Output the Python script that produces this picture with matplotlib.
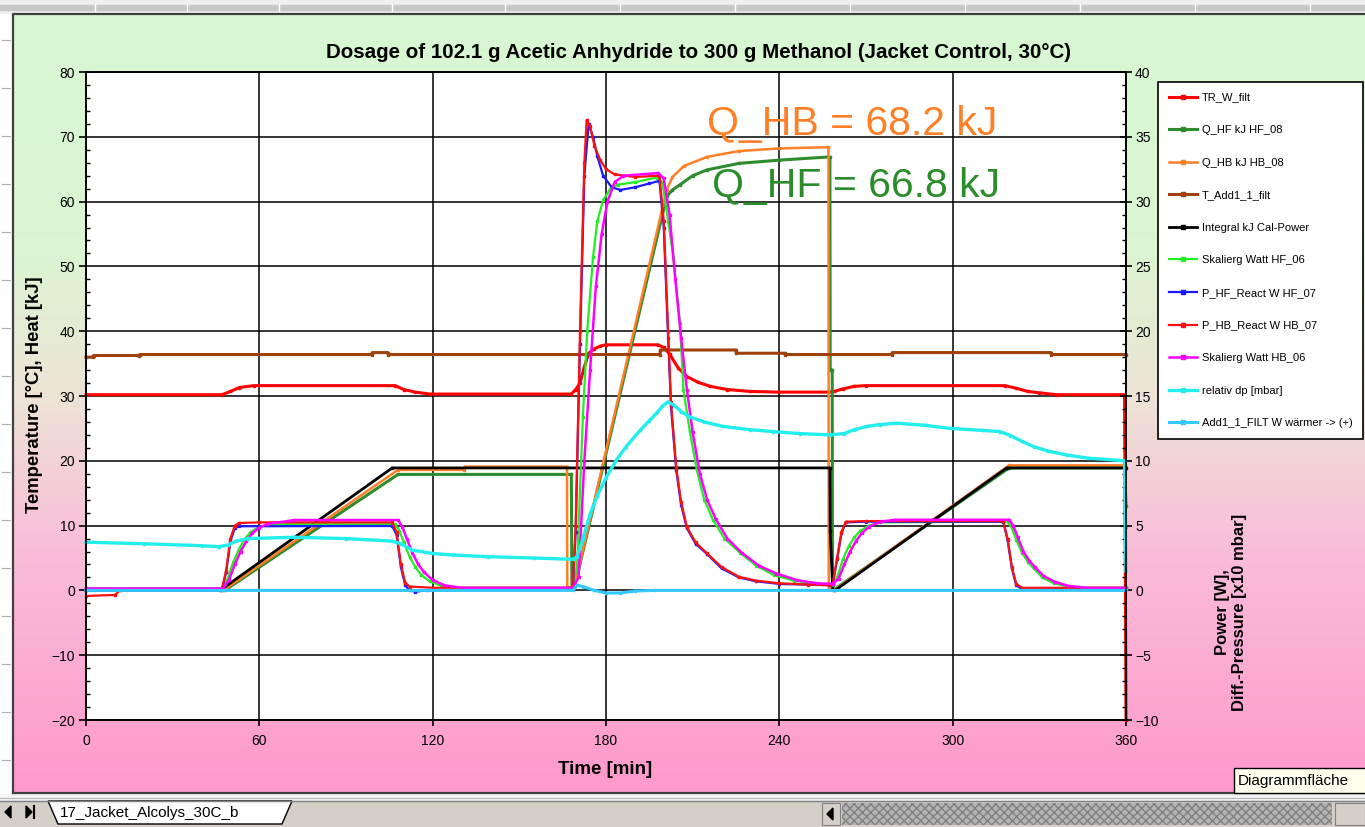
import numpy as np
import matplotlib
matplotlib.use("Agg")
import matplotlib.pyplot as plt
from matplotlib.patches import Rectangle, Polygon

plt.rcParams['font.family'] = ['Liberation Sans', 'DejaVu Sans']

# ---- data (time in min) ----
# left axis: temperature [degC] / heat [kJ]
tr_t = [0, 47, 50, 53, 58, 107, 110, 114, 119, 168, 169.5, 171, 172.5, 174, 176, 178, 180, 198, 200, 202,
        205, 208, 212, 216, 222, 230, 240, 257, 259, 262, 266, 270, 318, 322, 326, 330, 336, 359.5, 360]
tr_v = [30.2, 30.2, 30.7, 31.3, 31.6, 31.6, 31.0, 30.6, 30.3, 30.3, 31.0, 32.0, 34.5, 36.6, 37.3, 37.7,
        37.9, 37.9, 37.5, 36.5, 34.3, 33.0, 32.1, 31.5, 31.0, 30.7, 30.6, 30.6, 30.7, 31.1, 31.5, 31.6,
        31.6, 31.2, 30.7, 30.5, 30.2, 30.2, -20]

qhf_t = [0, 48, 108, 168, 168.2, 169, 201, 203, 205.6, 210, 215, 226, 240, 257.5, 257.6, 258.3, 258.4,
         259.5, 319.5, 359.5, 360]
qhf_v = [0, 0, 17.9, 17.9, 0.5, 0.3, 60.8, 61.8, 62.6, 64.0, 64.9, 65.9, 66.4, 66.9, 34.0, 34.0, 0.3,
         0.3, 18.9, 18.9, 13.0]

qhb_t = [0, 47.5, 108, 131, 131.1, 166.5, 166.6, 169, 201, 203, 207, 215, 226, 240, 257, 257.1, 259.5,
         319.5, 359.5, 360]
qhb_v = [0, 0, 18.6, 18.6, 19.1, 19.1, 0.5, 0.5, 61.8, 63.8, 65.5, 66.9, 67.8, 68.2, 68.4, 0.2, 0.2,
         19.3, 19.3, 9.8]

tadd_t = [0, 2.5, 2.6, 18.5, 18.6, 99, 99.1, 104.5, 104.6, 198.7, 198.8, 225, 225.1, 242, 242.1, 279,
          279.1, 334, 334.1, 360]
tadd_v = [36.0, 36.0, 36.25, 36.25, 36.4, 36.4, 36.7, 36.7, 36.4, 36.4, 37.1, 37.1, 36.6, 36.6, 36.4,
          36.4, 36.7, 36.7, 36.4, 36.4]

int_t = [0, 46.4, 106, 257.5, 257.6, 258.5, 259.3, 318.7, 360]
int_v = [0, 0, 18.9, 18.9, 9.2, 0, 0, 18.9, 18.9]

# right axis: power [W] / diff.-pressure [x10 mbar]
swhf_t = [0, 47, 49, 51, 53, 55, 57, 60, 63, 70, 107, 108.5, 110, 112, 114, 116, 119, 123, 128, 168.5,
          170, 172, 173.5, 175.5, 177, 179, 181.5, 184, 190, 197.5, 199.5, 201.5, 203.3, 205.6, 206.8,
          209, 211.4, 214, 217, 221, 226.4, 232, 238, 245, 252.8, 258.5, 260, 262, 264, 266, 268, 271,
          275, 319, 320.5, 322, 324, 326, 328, 331, 335, 340, 345, 360]
swhf_v = [0.15, 0.15, 0.9, 2.2, 3.2, 4.0, 4.5, 4.9, 5.05, 5.1, 5.1, 4.6, 3.7, 2.6, 1.8, 1.2, 0.7, 0.35,
          0.2, 0.2, 2.0, 13.4, 20.0, 25.7, 28.5, 30.1, 31.0, 31.3, 31.5, 31.85, 31.5, 28.5, 25.7, 20.6,
          15.5, 12.3, 9.3, 7.0, 5.45, 4.0, 2.9, 1.9, 1.2, 0.75, 0.5, 0.45, 1.0, 2.4, 3.4, 4.1, 4.6, 5.0,
          5.25, 5.3, 4.8, 3.9, 2.9, 2.2, 1.7, 1.0, 0.55, 0.3, 0.2, 0.2]

phf_t = [0, 47, 48.5, 50, 51.5, 53, 106, 107.5, 109, 110.5, 112, 114, 118, 168.5, 169.5, 171, 172.5,
         174, 175.5, 177, 179, 182, 185, 190, 195, 198.5, 200, 201.5, 202.5, 204.3, 206, 208, 211, 215,
         220, 226, 232, 240, 257.5, 258.5, 260, 261.5, 263, 270, 317.5, 319, 320.5, 322, 324, 360]
phf_v = [0, 0, 1.4, 3.8, 4.8, 4.95, 4.97, 4.3, 1.8, 0.4, 0.0, -0.1, 0.0, 0.1, 4.5, 19.0, 32.0, 36.0,
         35.0, 33.5, 32.0, 31.1, 30.9, 31.1, 31.4, 31.6, 28.0, 19.5, 14.2, 9.3, 6.6, 4.8, 3.6, 2.8, 1.7,
         1.0, 0.7, 0.5, 0.4, 0.5, 2.4, 4.4, 5.25, 5.3, 5.3, 3.9, 1.7, 0.4, 0.1, 0.1]

phb_t = [0, 10, 12, 47, 48.5, 50, 51.5, 53, 60, 106, 107.5, 109, 110.5, 112, 120, 168.5, 169.5, 171,
         172.5, 173.3, 174.5, 176, 178, 180, 183, 190, 198.5, 200, 201.5, 202.5, 204.3, 206, 208, 211,
         215, 220, 226, 232, 240, 250, 257.5, 258.5, 260, 261.5, 263, 270, 317.5, 319, 320.5, 322, 324, 360]
phb_v = [-0.43, -0.35, 0.05, 0.1, 1.5, 4.0, 5.0, 5.2, 5.25, 5.25, 4.5, 2.0, 0.6, 0.3, 0.2, 0.2, 5.0,
         20.0, 33.0, 36.3, 35.8, 34.3, 33.2, 32.5, 32.1, 31.9, 32.0, 28.5, 20.0, 14.5, 9.5, 6.8, 4.9,
         3.7, 2.85, 1.8, 1.05, 0.75, 0.55, 0.45, 0.4, 0.5, 2.5, 4.5, 5.3, 5.35, 5.35, 4.0, 1.8, 0.5,
         0.2, 0.2]

swhb_t = [0, 47.5, 49.5, 51.5, 53.5, 55.5, 57.5, 60, 63, 70, 72, 108, 109.5, 111, 113, 115, 117, 120,
          124, 130, 168.5, 170.5, 172.5, 174.5, 176.5, 178.5, 180.5, 183, 186, 198, 200, 202, 204, 206,
          208, 210, 212.5, 215, 218, 222, 227, 233, 239, 246, 253, 258.5, 260.5, 262.5, 264.5, 266.5,
          268.5, 271, 275, 280, 319.5, 321, 322.5, 324.5, 326.5, 328.5, 331.5, 335.5, 340, 346, 360]
swhb_v = [0.15, 0.15, 0.8, 2.0, 3.0, 3.8, 4.4, 4.85, 5.15, 5.35, 5.43, 5.43, 4.9, 4.0, 2.9, 2.0, 1.4,
          0.8, 0.4, 0.2, 0.2, 1.0, 10.0, 17.0, 23.5, 27.5, 30.0, 31.5, 32.0, 32.2, 31.8, 29.0, 24.0,
          19.5, 15.5, 12.2, 9.0, 7.0, 5.5, 4.0, 2.9, 1.9, 1.3, 0.8, 0.55, 0.5, 0.9, 2.0, 3.0, 3.8, 4.4,
          4.9, 5.3, 5.45, 5.45, 5.0, 4.1, 3.0, 2.3, 1.8, 1.1, 0.65, 0.35, 0.2, 0.2]

dp_t = [0, 20, 40, 46, 49, 52, 56, 72, 90, 106, 109, 113, 120, 127, 139, 155, 168.5, 170, 172, 174.5,
        177, 180, 183.6, 187, 191.8, 195, 197.4, 199.5, 201.4, 203.5, 206, 208.9, 214, 220.5, 230, 237.9,
        247, 257.5, 262.3, 266, 270.2, 275, 280.6, 290, 299, 310, 316.4, 320, 324, 328, 333, 339.5, 347,
        356.8, 359.5, 360]
dp_v = [3.72, 3.6, 3.45, 3.37, 3.5, 3.8, 4.0, 4.1, 4.0, 3.8, 3.6, 3.1, 2.85, 2.73, 2.6, 2.5, 2.4, 2.6,
        4.0, 5.9, 7.3, 8.7, 10.05, 11.1, 12.35, 13.1, 13.65, 14.2, 14.55, 14.3, 13.8, 13.4, 13.0, 12.65,
        12.4, 12.25, 12.1, 12.0, 12.1, 12.4, 12.65, 12.8, 12.9, 12.75, 12.5, 12.35, 12.25, 11.95, 11.5,
        11.1, 10.75, 10.45, 10.2, 10.05, 10.0, 1.5]

add_t = [0, 168.5, 170, 172, 176, 180, 185, 190, 197, 360]
add_v = [0, 0, 0.4, 0.3, 0.0, -0.2, -0.2, -0.05, 0.0, 0.0]

q_hb_total = 68.2
q_hf_total = 66.8

x_ticks = [0, 60, 120, 180, 240, 300, 360]

W, H = 1365, 827
fig = plt.figure(figsize=(W / 100, H / 100), dpi=100)
fig.patch.set_facecolor('white')

# ---- Excel-like surroundings ----
bg = fig.add_axes([0, 0, 1, 1], zorder=-5)
bg.set_xlim(0, W)
bg.set_ylim(H, 0)
bg.axis('off')

ys = np.arange(14, 794)
sy = [14, 250, 400, 550, 793]
cols = np.array([[0.84, 0.97, 0.82], [0.86, 0.96, 0.82], [0.93, 0.89, 0.84],
                 [0.98, 0.74, 0.85], [1.0, 0.6, 0.8]])
grad = np.stack([np.interp(ys, sy, cols[:, i]) for i in range(3)], axis=1)[:, None, :]
bg.imshow(grad, extent=(13, W, 793, 14), aspect='auto', interpolation='bilinear')
bg.plot([13, 13, W], [793, 14, 14], color='#404040', lw=1.6)
bg.plot([13, W], [793, 793], color='#404040', lw=1.6)

# top strip
bg.add_patch(Rectangle((0, 0), W, 13, color='#efefef'))
bg.add_patch(Rectangle((0, 5), W, 5, color='#c8c8c8'))
for xs in [95, 187, 279, 392, 505, 620, 735, 850, 965, 1080, 1195, 1310]:
    bg.plot([xs, xs], [4, 11], color='white', lw=1)
for yy in range(40, 790, 48):
    bg.plot([2, 10], [yy, yy], color='#b0b0b0', lw=0.8)

# bottom strip / tabs
bg.add_patch(Rectangle((0, 794), W, 7, color='#f4f4f4'))
bg.plot([0, W], [798, 798], color='#b8b8b8', lw=0.8)
bg.add_patch(Rectangle((0, 801), W, 26, color='#d4d0c8'))
bg.plot([0, W], [801, 801], color='#808080', lw=1)
bg.add_patch(Polygon([[5, 812], [11, 806], [11, 818]], color='black'))
bg.add_patch(Polygon([[26, 806], [32, 812], [26, 818]], color='black'))
bg.plot([34, 34], [806, 818], color='black', lw=1.5)
bg.add_patch(Polygon([[48, 801], [292, 801], [282, 824], [58, 824]], facecolor='white',
                     edgecolor='black', lw=1))
bg.text(60, 813, '17_Jacket_Alcolys_30C_b', fontsize=11, va='center', ha='left')
bg.add_patch(Rectangle((822, 803), 18, 22, facecolor='#d4d0c8', edgecolor='#808080', lw=0.8))
bg.add_patch(Polygon([[827, 814], [833, 808], [833, 820]], color='black'))
bg.add_patch(Rectangle((842, 803), 490, 22, facecolor='#b4b4b4', edgecolor='#808080',
                       hatch='xxxx', lw=0))
bg.add_patch(Rectangle((1335, 803), 30, 22, facecolor='#d4d0c8', edgecolor='#808080', lw=0.8))
bg.add_patch(Rectangle((1234, 768), 140, 25, facecolor='#ffffee', edgecolor='black', lw=1,
                       zorder=5))
bg.text(1238, 781, 'Diagrammfläche', fontsize=11, va='center', ha='left', zorder=6)

# ---- main plot ----
x0, x1, y0, y1 = 86, 1126, 72, 720
ax = fig.add_axes([x0 / W, 1 - y1 / H, (x1 - x0) / W, (y1 - y0) / H])
ax.set_facecolor('white')
ax2 = ax.twinx()

mk = dict(marker='s', ms=1.7)
lines = []
lines += ax.plot(tr_t, tr_v, color='#ff0000', lw=2.2, label='TR_W_filt', **mk)
lines += ax.plot(qhf_t, qhf_v, color='#2e8b2e', lw=2.2, label='Q_HF kJ HF_08', **mk)
lines += ax.plot(qhb_t, qhb_v, color='#ff7f27', lw=1.8, label='Q_HB kJ HB_08', **mk)
lines += ax.plot(tadd_t, tadd_v, color='#a0400a', lw=2.2, label='T_Add1_1_filt', **mk)
lines += ax.plot(int_t, int_v, color='#000000', lw=2.0, label='Integral kJ Cal-Power', **mk)
lines += ax2.plot(swhf_t, swhf_v, color='#22ee22', lw=1.6, label='Skalierg Watt HF_06', **mk)
lines += ax2.plot(phf_t, phf_v, color='#1a1aff', lw=1.6, label='P_HF_React W HF_07', **mk)
lines += ax2.plot(phb_t, phb_v, color='#ff1010', lw=1.6, label='P_HB_React W HB_07', **mk)
lines += ax2.plot(swhb_t, swhb_v, color='#ff00ff', lw=1.8, label='Skalierg Watt HB_06', **mk)
lines += ax2.plot(dp_t, dp_v, color='#22eeee', lw=2.4, label='relativ dp [mbar]', **mk)
lines += ax2.plot(add_t, add_v, color='#33c8ff', lw=2.2, label='Add1_1_FILT W wärmer -> (+)', **mk)
for ln in lines:
    ln.set_clip_on(False)

ax.set_xlim(0, 360)
ax.set_ylim(-20, 80)
ax2.set_ylim(-10, 40)
ax.set_xticks(x_ticks)
ax.set_yticks(np.arange(-20, 81, 10))
ax.set_yticks(np.arange(-20, 81, 2), minor=True)
ax2.set_yticks(np.arange(-10, 41, 5))
ax2.set_yticks(np.arange(-10, 41, 1), minor=True)
ax.grid(True, which='major', color='black', lw=1.1)
ax.set_axisbelow(True)
for a in (ax, ax2):
    for s in a.spines.values():
        s.set_color('black')
        s.set_linewidth(1.2)
ax.tick_params(axis='y', which='major', direction='out', length=5, width=1.2, labelsize=10, pad=3)
ax.tick_params(axis='y', which='minor', direction='in', length=3, width=1)
ax.tick_params(axis='x', which='major', direction='out', length=4, width=1.2, labelsize=10, pad=6)
ax2.tick_params(axis='y', which='major', direction='inout', length=9, width=1.2, labelsize=10, pad=2)
ax2.tick_params(axis='y', which='minor', direction='in', length=3, width=1)

ax.text(215, 70.3, 'Q_HB = %.1f kJ' % q_hb_total, color='#ff7f27', fontsize=29.5, va='baseline')
ax.text(216.7, 60.7, 'Q_HF = %.1f kJ' % q_hf_total, color='#2a8c2a', fontsize=29.5, va='baseline')

fig.text(699 / W, 1 - 52 / H,
         'Dosage of 102.1 g Acetic Anhydride to 300 g Methanol (Jacket Control, 30°C)',
         ha='center', va='center', fontsize=14.8, fontweight='bold')
fig.text(605 / W, 1 - 770 / H, 'Time [min]', ha='center', va='center', fontsize=13.5,
         fontweight='bold')
fig.text(35 / W, 1 - 395 / H, 'Temperature [°C], Heat [kJ]', ha='center', va='center',
         rotation=90, fontsize=13.3, fontweight='bold')
fig.text(1231 / W, 1 - 612 / H, 'Power [W],\nDiff.-Pressure [x10 mbar]', ha='center',
         va='center', rotation=90, fontsize=12, fontweight='bold', multialignment='center')

leg = fig.legend(handles=lines, loc='upper left', bbox_to_anchor=(1158 / W, 1 - 82 / H),
                 bbox_transform=fig.transFigure, fontsize=8, frameon=True, fancybox=False,
                 framealpha=1, edgecolor='black', borderpad=0.95, labelspacing=2.03,
                 handlelength=2.6, handletextpad=0.4, borderaxespad=0, numpoints=1)
leg.get_frame().set_linewidth(1.2)
for h in leg.legend_handles:
    h.set_markersize(2.5)

fig.savefig('out.png', dpi=100)
